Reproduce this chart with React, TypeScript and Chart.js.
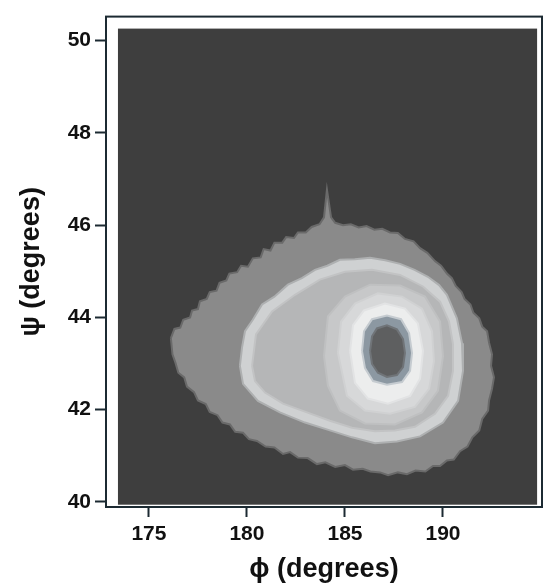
import React, { useEffect, useRef } from "react";
import { Chart, registerables } from "chart.js";

Chart.register(...registerables);

// Axis ticks and ranges
const PHI_TICKS = [175, 180, 185, 190];
const PSI_TICKS = [40, 42, 44, 46, 48, 50];
const PHI_RANGE = [172.81, 195.05];
const PSI_RANGE = [39.89, 50.52];

// Dark field (lowest density region) extent
const FIELD_PHI = [173.42, 194.8];
const FIELD_PSI = [39.94, 50.26];

// Contour levels as (phi, psi) vertices, outermost first
const LEVEL_1: [number, number][] = [
  [176.12, 43.55], [176.3, 43.75], [176.6, 43.78], [176.75, 43.95], [177.1, 44.0],
  [177.2, 44.15], [177.5, 44.18], [177.6, 44.35], [177.95, 44.4], [178.1, 44.55],
  [178.45, 44.58], [178.6, 44.75], [178.95, 44.8], [179.1, 44.95], [179.5, 44.98],
  [179.7, 45.12], [180.05, 45.1], [180.3, 45.28], [180.7, 45.3], [180.85, 45.48],
  [181.2, 45.45], [181.4, 45.62], [181.8, 45.62], [182.0, 45.74], [182.4, 45.72],
  [182.6, 45.84], [183.0, 45.84], [183.3, 45.96], [183.7, 46.02], [183.93, 46.17],
  [184.08, 46.77], [184.29, 46.17], [184.5, 46.05], [184.9, 46.0], [185.3, 46.02],
  [185.7, 45.95], [186.1, 45.98], [186.5, 45.9], [186.9, 45.92], [187.3, 45.84],
  [187.7, 45.83], [188.06, 45.7], [188.5, 45.65], [188.83, 45.5], [189.2, 45.4],
  [189.59, 45.22], [189.9, 45.12], [190.2, 44.95], [190.45, 44.85], [190.65, 44.68],
  [190.95, 44.55], [191.1, 44.4], [191.4, 44.28], [191.55, 44.1], [191.85, 43.98],
  [192.0, 43.8], [192.25, 43.7], [192.35, 43.45], [192.5, 43.2], [192.45, 42.95],
  [192.6, 42.7], [192.5, 42.45], [192.35, 42.2], [192.3, 41.98], [192.0, 41.8],
  [191.85, 41.55], [191.5, 41.4], [191.25, 41.2], [190.87, 41.1], [190.55, 40.92],
  [190.2, 40.9], [189.85, 40.78], [189.49, 40.78], [189.1, 40.66], [188.6, 40.68],
  [188.16, 40.6], [187.7, 40.64], [187.2, 40.58], [186.79, 40.64], [186.3, 40.66],
  [185.9, 40.72], [185.41, 40.7], [185.0, 40.8], [184.5, 40.76], [184.0, 40.86],
  [183.57, 40.82], [183.1, 40.95], [182.6, 40.96], [182.2, 41.08], [181.84, 41.04],
  [181.4, 41.18], [180.95, 41.2], [180.51, 41.32], [180.1, 41.36], [179.8, 41.5],
  [179.4, 41.52], [179.13, 41.68], [178.75, 41.72], [178.5, 41.88], [178.1, 41.95],
  [177.9, 42.12], [177.5, 42.2], [177.3, 42.38], [176.94, 42.5], [176.8, 42.7],
  [176.5, 42.8], [176.35, 43.02], [176.2, 43.2],
];
const LEVEL_2: [number, number][] = [
  [179.64, 42.95], [179.75, 43.35], [179.9, 43.7], [180.3, 43.95], [180.77, 44.28],
  [181.4, 44.45], [182.09, 44.71], [182.8, 44.85], [183.47, 45.03], [184.1, 45.12],
  [184.74, 45.25], [185.5, 45.26], [186.28, 45.29], [187.05, 45.24], [187.81, 45.16],
  [188.55, 45.03], [189.23, 44.88], [189.8, 44.7], [190.2, 44.49], [190.71, 43.98],
  [190.97, 43.44], [191.02, 42.84], [190.77, 42.19], [190.0, 41.72], [188.83, 41.42],
  [187.65, 41.31], [186.53, 41.27], [185.36, 41.4], [184.23, 41.55], [182.96, 41.72],
  [181.68, 41.94], [180.56, 42.19], [179.8, 42.56],
];
const LEVEL_3: [number, number][] = [
  [180.26, 42.95], [180.46, 43.63], [181.28, 44.13], [182.45, 44.49], [183.72, 44.82],
  [185.0, 44.99], [186.38, 45.03], [187.81, 44.92], [188.98, 44.67], [189.85, 44.34],
  [190.31, 43.91], [190.51, 43.42], [190.51, 42.84], [190.26, 42.3], [189.59, 41.91],
  [188.57, 41.63], [187.55, 41.55], [186.53, 41.53], [185.36, 41.61], [184.23, 41.76],
  [183.06, 41.94], [181.84, 42.13], [180.92, 42.37], [180.41, 42.62],
];
const LEVEL_4: [number, number][] = [
  [183.93, 43.16], [184.13, 44.02], [185.0, 44.45], [186.28, 44.71], [187.81, 44.69],
  [189.08, 44.45], [189.85, 43.91], [190.0, 43.16], [189.74, 42.41], [188.93, 41.94],
  [187.55, 41.68], [186.02, 41.7], [184.74, 41.98], [184.13, 42.52],
];
const LEVEL_5: [number, number][] = [
  [184.64, 43.23], [184.8, 43.91], [185.51, 44.3], [186.68, 44.52], [187.91, 44.45],
  [188.93, 44.19], [189.44, 43.7], [189.54, 43.05], [189.29, 42.45], [188.57, 42.06],
  [187.3, 41.91], [186.02, 41.98], [185.1, 42.3],
];
const LEVEL_6: [number, number][] = [
  [185.26, 43.27], [185.41, 43.83], [185.97, 44.15], [187.04, 44.3], [188.06, 44.19],
  [188.72, 43.87], [188.98, 43.27], [188.83, 42.67], [188.32, 42.3], [187.19, 42.13],
  [186.17, 42.24], [185.51, 42.58],
];
const LEVEL_7: [number, number][] = [
  [185.87, 43.27], [185.97, 43.7], [186.38, 43.96], [187.14, 44.04], [187.86, 43.96],
  [188.27, 43.66], [188.42, 43.23], [188.32, 42.84], [187.91, 42.6], [187.14, 42.54],
  [186.43, 42.62], [186.02, 42.9],
];
const LEVEL_8: [number, number][] = [
  [186.28, 43.27], [186.38, 43.59], [186.63, 43.76], [187.14, 43.83], [187.65, 43.74],
  [187.96, 43.53], [188.06, 43.23], [187.96, 42.92], [187.65, 42.75], [187.14, 42.71],
  [186.68, 42.8], [186.38, 42.99],
];

const LEVELS = [LEVEL_1, LEVEL_2, LEVEL_3, LEVEL_4, LEVEL_5, LEVEL_6, LEVEL_7, LEVEL_8];
const LEVEL_FILLS = ["#8a8a8a", "#cfd1d2", "#b5b6b7", "#c7c8c9", "#d7d8d9", "#eceded", "#8c98a2", "#5e5f60"];
const LEVEL_EDGES = ["#6a6a6a", "#aeb0b1", "#c2c3c4", "#bfc0c1", "#d0d1d2", "#e2e3e4", "#c5cbd0", "#707478"];
const FIELD_COLOR = "#3e3e3e";
const AXIS_COLOR = "#1c2a32";
const FONT = "'Liberation Sans', Arial, Helvetica, sans-serif";

export default function App() {
  const ref = useRef<HTMLCanvasElement>(null);

  useEffect(() => {
    if (!ref.current) return;
    const datasets = LEVELS.map((pts, i) => ({
      data: [...pts, pts[0]].map(([x, y]) => ({ x, y })),
      showLine: true,
      fill: "shape" as const,
      backgroundColor: LEVEL_FILLS[i],
      borderColor: LEVEL_EDGES[i],
      borderWidth: 2,
      pointRadius: 0,
      tension: 0,
      order: LEVELS.length - i,
    }));

    const framePlugin = {
      id: "frameAndField",
      beforeDatasetsDraw(chart: any) {
        const { ctx, scales } = chart;
        const x = scales.x;
        const y = scales.y;
        const l = x.getPixelForValue(FIELD_PHI[0]);
        const r = x.getPixelForValue(FIELD_PHI[1]);
        const t = y.getPixelForValue(FIELD_PSI[1]);
        const b = y.getPixelForValue(FIELD_PSI[0]);
        ctx.save();
        ctx.fillStyle = FIELD_COLOR;
        ctx.fillRect(l, t, r - l, b - t);
        ctx.restore();
      },
      afterDraw(chart: any) {
        const { ctx, chartArea } = chart;
        ctx.save();
        ctx.strokeStyle = AXIS_COLOR;
        ctx.lineWidth = 2;
        ctx.strokeRect(chartArea.left, chartArea.top, chartArea.right - chartArea.left, chartArea.bottom - chartArea.top);
        ctx.restore();
      },
    };

    const chart = new Chart(ref.current, {
      type: "line",
      data: { datasets },
      options: {
        animation: false,
        responsive: true,
        maintainAspectRatio: false,
        events: [],
        layout: { padding: { left: 0, top: 13, right: 3, bottom: 0 } },
        plugins: { legend: { display: false }, tooltip: { enabled: false } },
        scales: {
          x: {
            type: "linear",
            min: PHI_RANGE[0],
            max: PHI_RANGE[1],
            afterBuildTicks: (s: any) => { s.ticks = PHI_TICKS.map((v) => ({ value: v })); },
            afterFit: (s: any) => { s.height = 80; },
            border: { display: false },
            grid: { display: true, drawOnChartArea: false, drawTicks: true, tickLength: 10, tickWidth: 2, tickColor: AXIS_COLOR },
            ticks: { color: "#111", padding: 5, maxRotation: 0, font: { family: FONT, size: 21, weight: "bold" } },
            title: { display: true, text: "ϕ (degrees)", color: "#111", padding: { top: 0, bottom: 1 }, font: { family: FONT, size: 27, weight: "bold" } },
          },
          y: {
            type: "linear",
            min: PSI_RANGE[0],
            max: PSI_RANGE[1],
            afterBuildTicks: (s: any) => { s.ticks = PSI_TICKS.map((v) => ({ value: v })); },
            afterFit: (s: any) => { s.width = 106; },
            border: { display: false },
            grid: { display: true, drawOnChartArea: false, drawTicks: true, tickLength: 11, tickWidth: 2, tickColor: AXIS_COLOR },
            ticks: { color: "#111", padding: 4, font: { family: FONT, size: 21, weight: "bold" } },
            title: { display: true, text: "ψ (degrees)", color: "#111", padding: { top: 15, bottom: 0 }, font: { family: FONT, size: 27, weight: "bold" } },
          },
        },
      },
      plugins: [framePlugin],
    } as any);

    return () => chart.destroy();
  }, []);

  return (
    <div style={{ position: "fixed", left: 0, top: 0, width: 545, height: 587, background: "#ffffff" }}>
      <canvas ref={ref} />
    </div>
  );
}
